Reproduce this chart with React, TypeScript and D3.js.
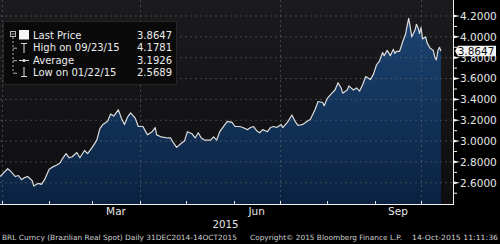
import React from "react";
import * as d3 from "d3";

const dates: string[] = [
  "2014-12-31","2015-01-05","2015-01-07","2015-01-10","2015-01-12","2015-01-14","2015-01-16","2015-01-18","2015-01-21","2015-01-22",
  "2015-01-25","2015-01-27","2015-01-29","2015-02-01","2015-02-03","2015-02-06","2015-02-08","2015-02-10","2015-02-12","2015-02-14",
  "2015-02-16","2015-02-19","2015-02-21","2015-02-24","2015-02-26","2015-03-01","2015-03-04","2015-03-06","2015-03-08","2015-03-11",
  "2015-03-13","2015-03-15","2015-03-18","2015-03-20","2015-03-22","2015-03-24","2015-03-26","2015-03-29","2015-03-31","2015-04-03",
  "2015-04-06","2015-04-09","2015-04-11","2015-04-12","2015-04-15","2015-04-19","2015-04-21","2015-04-23","2015-04-25","2015-04-28",
  "2015-04-30","2015-05-02","2015-05-05","2015-05-07","2015-05-09","2015-05-11","2015-05-13","2015-05-17","2015-05-19","2015-05-21",
  "2015-05-23","2015-05-26","2015-05-28","2015-05-31","2015-06-02","2015-06-05","2015-06-07","2015-06-10","2015-06-12","2015-06-14",
  "2015-06-16","2015-06-18","2015-06-20","2015-06-23","2015-06-25","2015-06-27","2015-06-29","2015-07-02","2015-07-03","2015-07-06",
  "2015-07-09","2015-07-11","2015-07-13","2015-07-16","2015-07-19","2015-07-21","2015-07-24","2015-07-26","2015-07-29","2015-07-30",
  "2015-08-01","2015-08-04","2015-08-06","2015-08-08","2015-08-10","2015-08-11","2015-08-14","2015-08-15","2015-08-18","2015-08-20",
  "2015-08-22","2015-08-24","2015-08-26","2015-08-29","2015-08-31","2015-09-02","2015-09-04","2015-09-06","2015-09-07","2015-09-09",
  "2015-09-11","2015-09-13","2015-09-14","2015-09-15","2015-09-17","2015-09-19","2015-09-21","2015-09-22","2015-09-23","2015-09-24",
  "2015-09-25","2015-09-27","2015-09-28","2015-09-29","2015-09-30","2015-10-01","2015-10-02","2015-10-04","2015-10-05","2015-10-07",
  "2015-10-09","2015-10-10","2015-10-11","2015-10-12","2015-10-13","2015-10-14"
];

const prices: number[] = [
  2.66,2.735,2.71,2.66,2.67,2.63,2.65,2.66,2.62,2.5689,
  2.595,2.585,2.63,2.73,2.75,2.77,2.79,2.84,2.88,2.84,
  2.85,2.89,2.84,2.91,2.88,2.94,3.01,3.12,3.16,3.19,
  3.26,3.24,3.30,3.22,3.16,3.23,3.27,3.22,3.14,3.14,
  3.06,3.09,3.13,3.06,3.04,3.03,3.03,2.98,2.94,2.98,
  3.00,3.09,3.07,3.03,3.08,3.03,3.01,3.01,3.04,3.01,
  3.09,3.15,3.19,3.18,3.14,3.14,3.13,3.11,3.13,3.14,
  3.10,3.08,3.11,3.09,3.13,3.14,3.13,3.16,3.13,3.18,
  3.25,3.19,3.15,3.16,3.19,3.21,3.30,3.38,3.37,3.34,
  3.41,3.46,3.49,3.56,3.51,3.46,3.49,3.53,3.49,3.51,
  3.48,3.54,3.62,3.59,3.64,3.73,3.77,3.85,3.82,3.87,
  3.82,3.88,3.84,3.86,3.86,3.95,4.03,4.11,4.1781,4.09,
  4.00,4.06,4.12,4.09,4.03,4.09,3.98,4.00,3.94,3.89,
  3.87,3.80,3.78,3.87,3.90,3.8647
];

const yTicks: number[] = [2.6, 2.8, 3.0, 3.2, 3.4, 3.6, 3.8, 4.0, 4.2];
const yMinorTicks: number[] = [2.5, 2.7, 2.9, 3.1, 3.3, 3.5, 3.7, 3.9, 4.1];
const monthLabels: string[] = ["Mar", "Jun", "Sep"];
const monthLabelDates: string[] = ["2015-03-01", "2015-06-01", "2015-09-01"];
const monthTickDates: string[] = [
  "2015-01-01","2015-02-01","2015-03-01","2015-04-01","2015-05-01",
  "2015-06-01","2015-07-01","2015-08-01","2015-09-01","2015-10-01"
];
const quarterDates: string[] = ["2015-01-01", "2015-04-01", "2015-07-01", "2015-10-01"];

const legendLabels: string[] = ["Last Price", "High on 09/23/15", "Average", "Low on 01/22/15"];
const legendValues: string[] = ["3.8647", "4.1781", "3.1926", "2.5689"];
const lastPrice = 3.8647;

const parse = d3.timeParse("%Y-%m-%d");
const FONT = "DejaVu Sans, sans-serif";

export default function App() {
  const W = 500, H = 244;
  const plotRight = 453, axisY = 204;
  const data = dates.map((d, i) => ({ date: parse(d) as Date, v: prices[i] }));
  const x = d3.scaleTime()
    .domain([parse("2014-12-31") as Date, parse("2015-10-14") as Date])
    .range([0, 441]);
  const y = d3.scaleLinear().domain([2.6, 4.2]).range([182.8, 16]);

  const area = d3.area<{ date: Date; v: number }>()
    .x(d => x(d.date)).y0(axisY).y1(d => y(d.v));
  const line = d3.line<{ date: Date; v: number }>()
    .x(d => x(d.date)).y(d => y(d.v));

  const fmt = d3.format(".4f");
  const rowY = [35, 47.7, 60.2, 72.7];

  return (
    <svg width={W} height={H} style={{ position: "absolute", left: 0, top: 0, background: "#000" }}>
      <defs>
        <linearGradient id="bg" x1="0" y1="0" x2="0" y2="1">
          <stop offset="0" stopColor="#1b1b1d" />
          <stop offset="1" stopColor="#0e0e10" />
        </linearGradient>
        <linearGradient id="fill" gradientUnits="userSpaceOnUse" x1="0" y1="15" x2="0" y2="204">
          <stop offset="0" stopColor="#1c4473" />
          <stop offset="1" stopColor="#0a2240" />
        </linearGradient>
      </defs>
      <rect x={0} y={0} width={W} height={H} fill="#000" />
      <rect x={0} y={0} width={plotRight} height={axisY} fill="url(#bg)" />
      <path d={area(data) || ""} fill="url(#fill)" />
      {/* horizontal grid */}
      {yTicks.map(t => (
        <line key={"g" + t} x1={0} x2={plotRight} y1={y(t)} y2={y(t)}
          stroke="#5a5a62" strokeOpacity={0.7} strokeWidth={1} strokeDasharray="2,3" />
      ))}
      {/* vertical grid */}
      {quarterDates.map(d => {
        const xx = Math.round(x(parse(d) as Date)) + 0.5;
        return <line key={"v" + d} x1={xx} x2={xx} y1={0} y2={axisY}
          stroke="#5a5a62" strokeOpacity={0.7} strokeWidth={1} strokeDasharray="2,3" />;
      })}
      <path d={line(data) || ""} fill="none" stroke="#dcdcdc" strokeWidth={1.2} strokeLinejoin="round" />

      {/* axes */}
      <line x1={0} x2={plotRight + 1} y1={axisY + 0.5} y2={axisY + 0.5} stroke="#f0f0f0" strokeWidth={1} />
      <line x1={plotRight + 0.5} x2={plotRight + 0.5} y1={0} y2={axisY + 1} stroke="#f0f0f0" strokeWidth={1} />
      {monthTickDates.map(d => {
        const xx = Math.round(x(parse(d) as Date)) + 0.5;
        return <line key={"mt" + d} x1={xx} x2={xx} y1={axisY - 3} y2={axisY} stroke="#f0f0f0" />;
      })}
      {monthLabels.map((m, i) => {
        const a = parse(monthLabelDates[i]) as Date;
        const b = d3.timeMonth.offset(a, 1);
        return <text key={m} x={(x(a) + x(b)) / 2} y={215} textAnchor="middle"
          fontFamily={FONT} fontSize={10.5} fill="#e6e6e6">{m}</text>;
      })}
      <text x={225.5} y={227.5} textAnchor="middle" fontFamily={FONT} fontSize={10.3} fill="#e6e6e6">2015</text>

      {yTicks.map(t => (
        <g key={"yt" + t}>
          <polygon points={`${plotRight},${y(t) - 1.6} ${plotRight},${y(t) + 1.6} ${plotRight + 7},${y(t)}`} fill="#f0f0f0" />
          <text x={460} y={y(t) + 3.8} fontFamily={FONT} fontSize={10.5} fill="#e6e6e6">{fmt(t)}</text>
        </g>
      ))}
      {yMinorTicks.map(t => (
        <line key={"ym" + t} x1={plotRight} x2={plotRight + 4} y1={y(t)} y2={y(t)} stroke="#f0f0f0" />
      ))}
      {/* last price label */}
      <g>
        <path d={`M${plotRight + 2},${y(lastPrice)} L${plotRight + 5},${y(lastPrice) - 5.3} L496,${y(lastPrice) - 5.3} L496,${y(lastPrice) + 5.3} L${plotRight + 5},${y(lastPrice) + 5.3} Z`}
          fill="#f4f4f4" />
        <text x={476} y={y(lastPrice) + 3.8} textAnchor="middle" fontFamily={FONT} fontSize={10.5} fill="#111">{fmt(lastPrice)}</text>
      </g>

      {/* legend */}
      <rect x={3.5} y={21.5} width={173} height={63} fill="#0a0a0b" stroke="#262628" />
      <rect x={10.5} y={31.5} width={5} height={5} fill="none" stroke="#bbb" />
      <line x1={11.5} x2={14.5} y1={34} y2={34} stroke="#bbb" />
      <line x1={13} x2={13} y1={37} y2={73} stroke="#aaa" strokeDasharray="2,2" />
      {[1, 2, 3].map(i => (
        <line key={"tc" + i} x1={13} x2={17} y1={rowY[i] + 0.5} y2={rowY[i] + 0.5} stroke="#aaa" />
      ))}
      <rect x={19} y={30} width={10} height={9.5} fill="#f4f4f4" />
      <line x1={24} x2={24} y1={43} y2={53} stroke="#ddd" />
      <line x1={21} x2={27} y1={43.5} y2={43.5} stroke="#ddd" />
      <line x1={19} x2={29} y1={60.5} y2={60.5} stroke="#ddd" />
      <circle cx={24} cy={60.5} r={1.6} fill="#ddd" />
      <line x1={24} x2={24} y1={67} y2={76} stroke="#ddd" />
      <line x1={21} x2={27} y1={76.5} y2={76.5} stroke="#ddd" />
      {legendLabels.map((l, i) => (
        <g key={l}>
          <text x={33} y={rowY[i] + 3.7} fontFamily={FONT} fontSize={10} fill="#ececec">{l}</text>
          <text x={137} y={rowY[i] + 3.7} fontFamily={FONT} fontSize={10} fill="#ececec">{legendValues[i]}</text>
        </g>
      ))}

      {/* footer */}
      <text x={2} y={240} fontFamily={FONT} fontSize={7.2} fill="#d0d0d0" textLength={235} lengthAdjust="spacingAndGlyphs">BRL Curncy (Brazilian Real Spot)  Daily 31DEC2014-14OCT2015</text>
      <text x={250} y={240} fontFamily={FONT} fontSize={7.2} fill="#d0d0d0" textLength={152} lengthAdjust="spacingAndGlyphs">Copyright© 2015 Bloomberg Finance L.P.</text>
      <text x={412} y={240} fontFamily={FONT} fontSize={7.2} fill="#d0d0d0" textLength={86} lengthAdjust="spacingAndGlyphs">14-Oct-2015 11:11:36</text>
    </svg>
  );
}
